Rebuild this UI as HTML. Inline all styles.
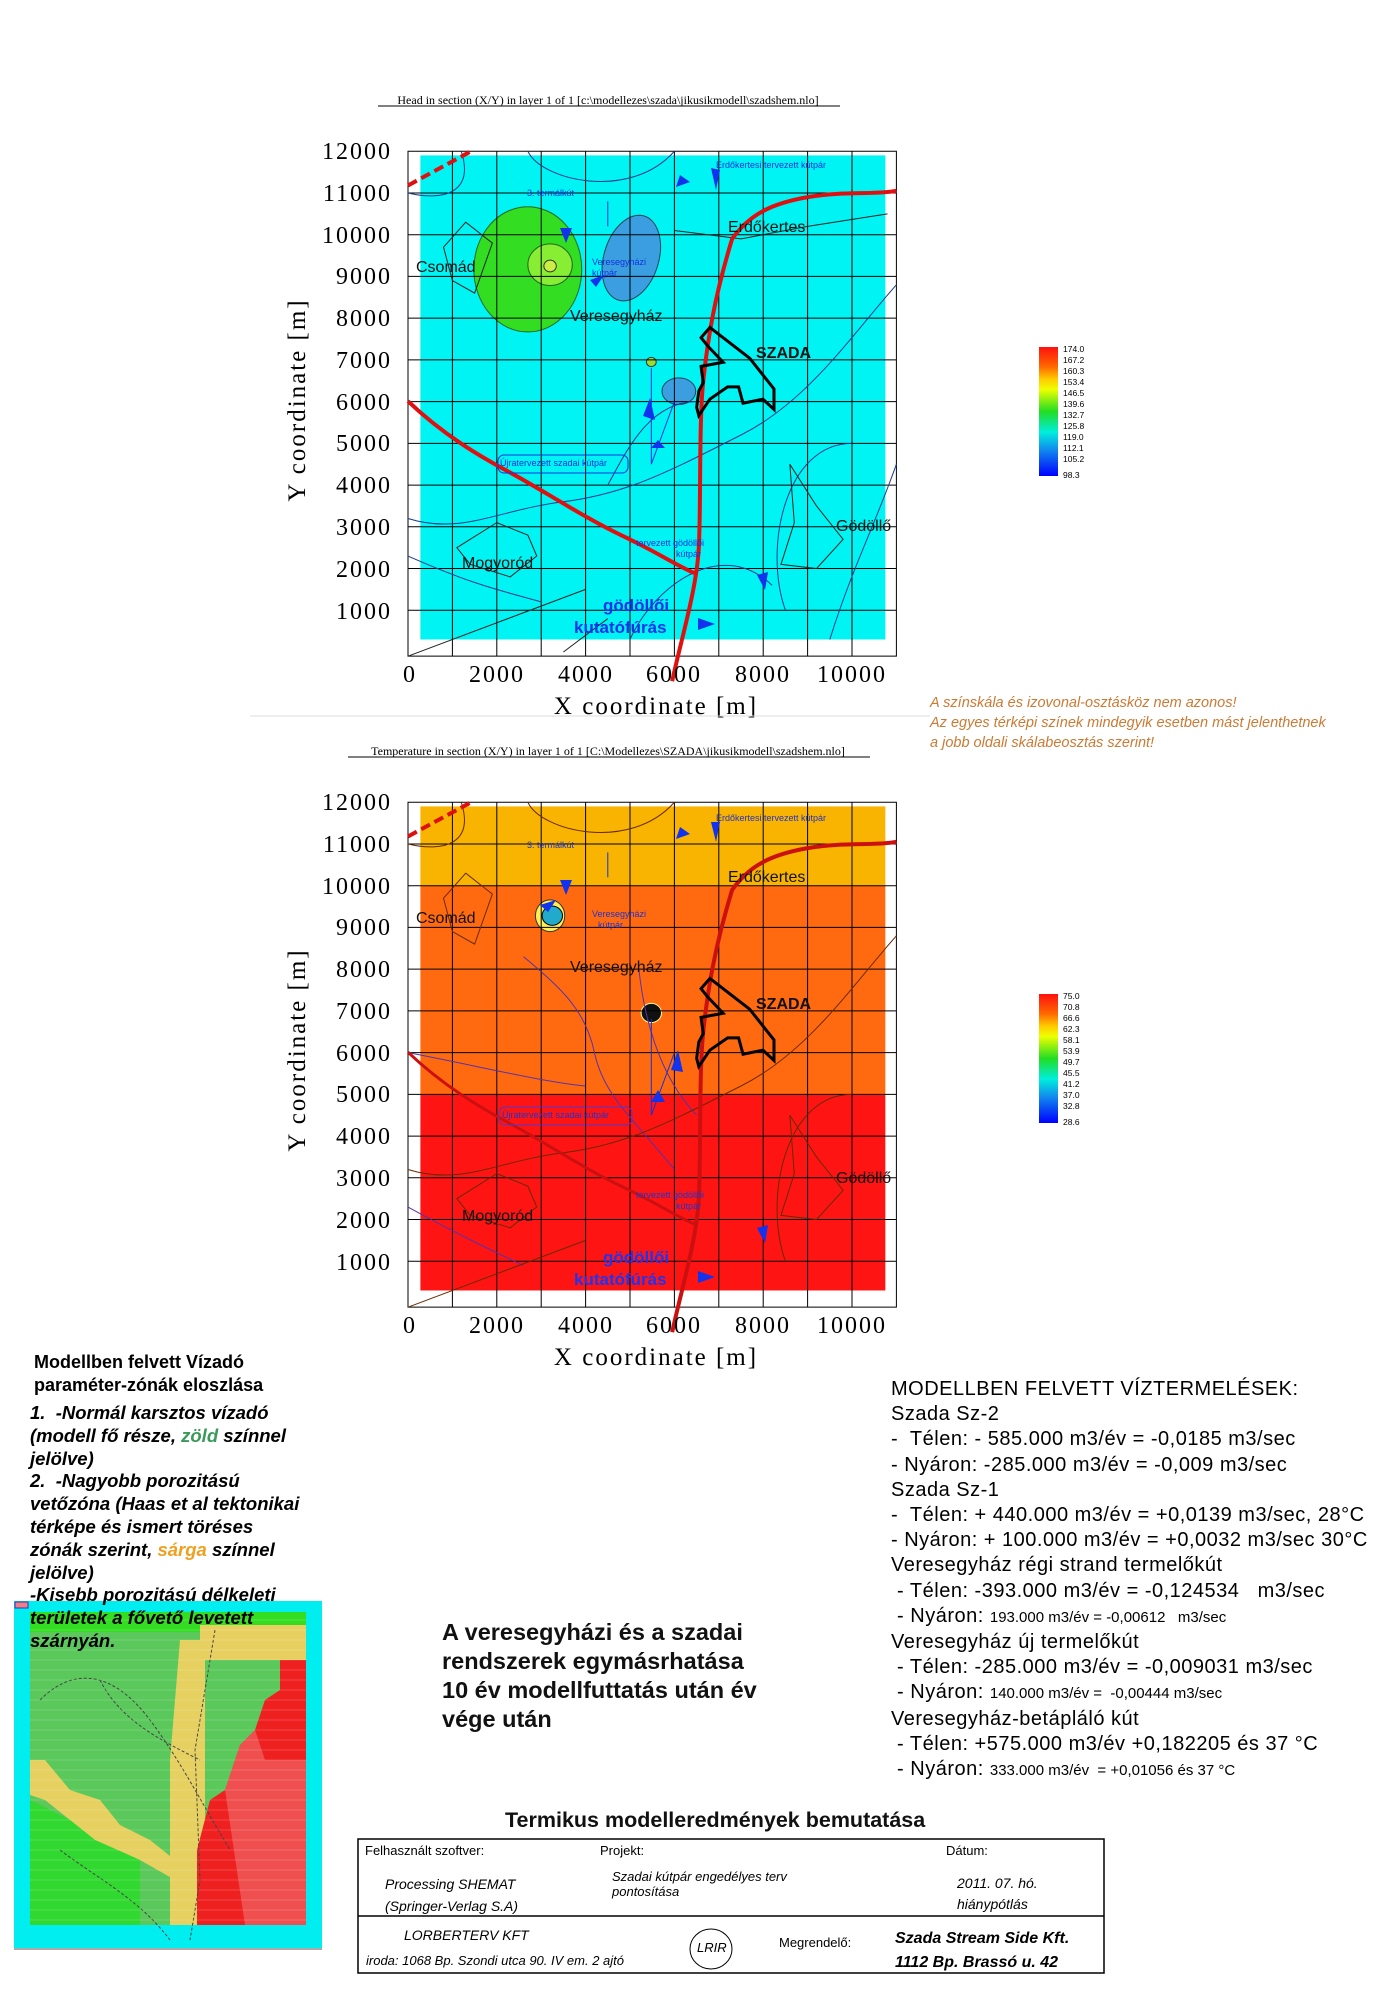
<!DOCTYPE html>
<html><head><meta charset="utf-8">
<style>
html,body{margin:0;padding:0;background:#fff;}
body{width:1388px;height:1992px;position:relative;overflow:hidden;font-family:"Liberation Sans",sans-serif;}
.t{position:absolute;white-space:nowrap;}
</style></head><body>
<svg width="1388" height="1992" style="position:absolute;left:0;top:0" xmlns="http://www.w3.org/2000/svg">
<!-- ============ PLOT 1 ============ -->
<g transform="translate(408,652) scale(0.0444,-0.04173)">
  <rect x="279" y="300" width="10472" height="11600" fill="#00f4f4"/>
  <ellipse cx="2698" cy="9170" rx="1215" ry="1500" fill="#33dd22" stroke="#226622" stroke-width="1" vector-effect="non-scaling-stroke"/>
  <circle cx="3200" cy="9280" r="500" fill="#88ee33" stroke="#226622" vector-effect="non-scaling-stroke"/>
  <circle cx="3200" cy="9250" r="140" fill="#ccee44" stroke="#333" vector-effect="non-scaling-stroke"/>
  <ellipse cx="5030" cy="9440" rx="620" ry="1050" transform="rotate(-15 5030 9440)" fill="#3a9ee0" stroke="#245" vector-effect="non-scaling-stroke"/>
  <ellipse cx="6100" cy="6250" rx="380" ry="320" fill="#3a9ee0" stroke="#245" vector-effect="non-scaling-stroke"/>
  <circle cx="5480" cy="6950" r="110" fill="#99dd33" stroke="#333" vector-effect="non-scaling-stroke"/>
  <g stroke="#000" stroke-width="1" fill="none">
    <path vector-effect="non-scaling-stroke" d="M0 1000H11000M0 2000H11000M0 3000H11000M0 4000H11000M0 5000H11000M0 6000H11000M0 7000H11000M0 8000H11000M0 9000H11000M0 10000H11000M0 11000H11000M1000 -100V12000M2000 -100V12000M3000 -100V12000M4000 -100V12000M5000 -100V12000M6000 -100V12000M7000 -100V12000M8000 -100V12000M9000 -100V12000M10000 -100V12000"/>
    <rect vector-effect="non-scaling-stroke" x="0" y="-100" width="11000" height="12100"/>
  </g>
  <g fill="none" stroke="#1a3a8a" stroke-width="1">
    <path vector-effect="non-scaling-stroke" d="M0 2300C1500 1600 2000 1500 3000 1200M0 3200C1200 2800 2000 3400 3500 3600S6000 4400 7500 5200 10000 7600 11000 8800M1200 12000C1500 11000 800 10800 0 11000M2700 12000C3000 11300 5000 10800 6000 12000M6500 6000C5500 6000 5000 5000 4500 4000M8500 1000C8000 2500 8500 5000 10000 5000M9500 300C10000 2000 10500 3000 11000 4500M5000 300C5500 1500 7000 2800 8200 1600"/>
  </g>
  <g fill="none" stroke="#222" stroke-width="1">
    <path vector-effect="non-scaling-stroke" d="M800 9700L1300 10300 1900 9800 1500 8600 1000 8900ZM2000 3100L2700 2800 2900 2300 2300 1800 1400 2100 1100 2500ZM8600 4500L9200 3500 9800 2700 9200 2000 8400 2100 8700 3100ZM6000 10100L7500 9900 9000 10200 10800 10500M0 -100L4000 1500M3500 0L4500 800"/>
  </g>
  <path vector-effect="non-scaling-stroke" d="M0 6010C800 5200 1600 4700 2300 4300S4000 3200 4800 2800 6000 2100 6450 1890" fill="none" stroke="#e01010" stroke-width="4"/>
  <path vector-effect="non-scaling-stroke" d="M5950 -700C6150 300 6500 1500 6550 2500S6550 5500 6650 6500 6900 8500 7300 9900C7700 10500 8200 10750 9000 10900S10500 10950 11000 11050" fill="none" stroke="#e01010" stroke-width="4"/>
  <path vector-effect="non-scaling-stroke" d="M0 11180L1420 12000" fill="none" stroke="#e01010" stroke-width="4" stroke-dasharray="10 5"/>
  <path vector-effect="non-scaling-stroke" d="M6799 7777L6600 7532 6749 7336 7098 6943 6600 6845 6650 6452 6550 6255 6501 5862 6550 5666 6799 6059 7198 6353 7446 6353 7546 5961 7994 6059 8243 5813 8243 6304 7695 7041Z" fill="none" stroke="#000" stroke-width="3"/>
  <path vector-effect="non-scaling-stroke" d="M5480 4500V6800M5480 4500L6000 6000M4500 10800V10200" stroke="#1133dd" fill="none"/>
</g>
<g fill="#1133ee">
  <polygon points="651,448 658,440 665,448"/><polygon points="643,416 650,398 655,420"/>
  <polygon points="596,287 590,280 604,275"/><polygon points="560,228 566,243 572,228"/>
  <polygon points="680,175 690,182 676,187"/><polygon points="698,618 715,624 698,630"/>
  <polygon points="757,575 765,590 768,572"/><polygon points="711,168 716,190 720,170"/>
</g>
<g font-family="Liberation Sans,sans-serif" fill="#1133dd" font-size="9">
  <text x="527" y="196">3. termálkút</text>
  <text x="716" y="168">Erdőkertesi tervezett kútpár</text>
  <text x="592" y="265">Veresegyházi</text><text x="592" y="276">kútpár</text>
  <text x="500" y="466">Újratervezett szadai kútpár</text>
  <text x="636" y="546">tervezett gödöllői</text><text x="676" y="557">kútpár</text>
</g>
<rect x="498" y="455" width="130" height="18" rx="6" fill="none" stroke="#1133dd"/>
<g font-family="Liberation Sans,sans-serif" font-size="16" fill="#111">
  <text x="416" y="272">Csomád</text><text x="570" y="321">Veresegyház</text>
  <text x="728" y="232">Erdőkertes</text><text x="836" y="531">Gödöllő</text>
  <text x="462" y="568">Mogyoród</text>
  <text x="756" y="358" font-weight="bold">SZADA</text>
</g>
<g font-family="Liberation Sans,sans-serif" font-size="17" fill="#1133ee" font-weight="bold">
  <text x="603" y="611">gödöllői</text><text x="574" y="633">kutatófúrás</text>
</g>
<g font-family="Liberation Serif,serif" font-size="24" fill="#000" text-anchor="end" letter-spacing="2">
  <text x="392" y="159">12000</text><text x="392" y="201">11000</text><text x="392" y="243">10000</text><text x="392" y="284">9000</text><text x="392" y="326">8000</text><text x="392" y="368">7000</text><text x="392" y="410">6000</text><text x="392" y="451">5000</text><text x="392" y="493">4000</text><text x="392" y="535">3000</text><text x="392" y="577">2000</text><text x="392" y="619">1000</text>
</g>
<g font-family="Liberation Serif,serif" font-size="24" fill="#000" text-anchor="middle" letter-spacing="2">
  <text x="410" y="682">0</text><text x="497" y="682">2000</text><text x="586" y="682">4000</text><text x="674" y="682">6000</text><text x="763" y="682">8000</text><text x="852" y="682">10000</text>
</g>
<text x="656" y="714" font-family="Liberation Serif,serif" font-size="25" text-anchor="middle" letter-spacing="2">X coordinate [m]</text>
<text transform="translate(305,400) rotate(-90)" font-family="Liberation Serif,serif" font-size="25" text-anchor="middle" letter-spacing="2">Y coordinate [m]</text>
<text x="608" y="104" font-family="Liberation Serif,serif" font-size="12" text-anchor="middle">Head in section (X/Y) in layer 1 of 1    [c:\modellezes\szada\jikusikmodell\szadshem.nlo]</text>
<line x1="378" y1="106" x2="840" y2="106" stroke="#000"/>
<line x1="250" y1="716" x2="930" y2="716" stroke="#ddd"/>

<defs>
<linearGradient id="cb" x1="0" y1="0" x2="0" y2="1">
<stop offset="0" stop-color="#ff1010"/><stop offset="0.15" stop-color="#ff6600"/><stop offset="0.25" stop-color="#ffcc00"/><stop offset="0.33" stop-color="#eeff00"/><stop offset="0.5" stop-color="#22dd22"/><stop offset="0.66" stop-color="#00eedd"/><stop offset="0.8" stop-color="#1188ee"/><stop offset="1" stop-color="#0000ff"/>
</linearGradient>
</defs>
<rect x="1039" y="347" width="19" height="129" fill="url(#cb)"/>
<g font-family="Liberation Sans,sans-serif" font-size="8.5" fill="#000">
<text x="1063" y="352">174.0</text><text x="1063" y="363">167.2</text><text x="1063" y="374">160.3</text><text x="1063" y="385">153.4</text><text x="1063" y="396">146.5</text><text x="1063" y="407">139.6</text><text x="1063" y="418">132.7</text><text x="1063" y="429">125.8</text><text x="1063" y="440">119.0</text><text x="1063" y="451">112.1</text><text x="1063" y="462">105.2</text><text x="1063" y="478">98.3</text>
</g>

<!-- ============ PLOT 2 ============ -->
<g transform="translate(408,1303) scale(0.0444,-0.04173)">
  <rect x="279" y="10000" width="10472" height="1900" fill="#f8b400"/>
  <rect x="279" y="5000" width="10472" height="5000" fill="#ff6a10"/>
  <rect x="279" y="300" width="10472" height="4700" fill="#ff1414"/>
  <ellipse cx="3200" cy="9280" rx="330" ry="380" fill="#ffee55" stroke="#333" vector-effect="non-scaling-stroke"/>
  <circle cx="3250" cy="9280" r="230" fill="#22aacc" stroke="#001" vector-effect="non-scaling-stroke"/>
  <circle cx="5480" cy="6950" r="230" fill="#111" stroke="#ff9" vector-effect="non-scaling-stroke"/>
  <g stroke="#000" fill="none">
    <path vector-effect="non-scaling-stroke" d="M0 1000H11000M0 2000H11000M0 3000H11000M0 4000H11000M0 5000H11000M0 6000H11000M0 7000H11000M0 8000H11000M0 9000H11000M0 10000H11000M0 11000H11000M1000 -100V12000M2000 -100V12000M3000 -100V12000M4000 -100V12000M5000 -100V12000M6000 -100V12000M7000 -100V12000M8000 -100V12000M9000 -100V12000M10000 -100V12000"/>
    <rect vector-effect="non-scaling-stroke" x="0" y="-100" width="11000" height="12100"/>
  </g>
  <g fill="none" stroke="#5533aa">
    <path vector-effect="non-scaling-stroke" d="M0 2300C1200 1600 2000 1200 2600 900M2600 8300C3500 7500 4000 7000 4200 6000S5000 4500 6000 3200M0 6000C1500 5700 3000 5300 4000 5200M5200 8000C5300 7000 5600 5500 6500 4500"/>
  </g>
  <g fill="none" stroke="#6a2a00">
    <path vector-effect="non-scaling-stroke" d="M800 9700L1300 10300 1900 9800 1500 8600 1000 8900ZM2000 3100L2700 2800 2900 2300 2300 1800 1400 2100 1100 2500ZM8600 4500L9200 3500 9800 2700 9200 2000 8400 2100 8700 3100ZM0 3200C1200 2800 2000 3400 3500 3600S6000 4400 7500 5200 10000 7600 11000 8800M1200 12000C1500 11000 800 10800 0 11000M2700 12000C3000 11300 5000 10800 6000 12000M8500 1000C8000 2500 8500 5000 10000 5000M0 -100L4000 1500"/>
  </g>
  <path vector-effect="non-scaling-stroke" d="M0 6010C800 5200 1600 4700 2300 4300S4000 3200 4800 2800 6000 2100 6450 1890" fill="none" stroke="#cc1010" stroke-width="3"/>
  <path vector-effect="non-scaling-stroke" d="M5950 -700C6150 300 6500 1500 6550 2500S6550 5500 6650 6500 6900 8500 7300 9900C7700 10500 8200 10750 9000 10900S10500 10950 11000 11050" fill="none" stroke="#cc1010" stroke-width="4"/>
  <path vector-effect="non-scaling-stroke" d="M0 11180L1420 12000" fill="none" stroke="#dd1010" stroke-width="4" stroke-dasharray="10 5"/>
  <path vector-effect="non-scaling-stroke" d="M6799 7777L6600 7532 6749 7336 7098 6943 6600 6845 6650 6452 6550 6255 6501 5862 6550 5666 6799 6059 7198 6353 7446 6353 7546 5961 7994 6059 8243 5813 8243 6304 7695 7041Z" fill="none" stroke="#000" stroke-width="3"/>
  <path vector-effect="non-scaling-stroke" d="M5480 4500V6800M5480 4500L6000 6000M4500 10800V10200" stroke="#1133dd" fill="none"/>
</g>
<g fill="#1133ee">
  <polygon points="651,1102 658,1090 665,1102"/><polygon points="671,1070 678,1050 683,1072"/>
  <polygon points="548,912 540,905 556,900"/><polygon points="560,880 566,895 572,880"/>
  <polygon points="680,827 690,834 676,839"/><polygon points="698,1271 715,1277 698,1283"/>
  <polygon points="757,1228 765,1243 768,1225"/><polygon points="711,822 716,842 720,822"/>
</g>
<g font-family="Liberation Sans,sans-serif" fill="#2233cc" font-size="9">
  <text x="527" y="848">3. termálkút</text>
  <text x="716" y="821">Erdőkertesi tervezett kútpár</text>
  <text x="592" y="917">Veresegyházi</text><text x="598" y="928">kútpár</text>
  <text x="502" y="1118">Újratervezett szadai kútpár</text>
  <text x="636" y="1198">tervezett gödöllői</text><text x="676" y="1209">kútpár</text>
</g>
<rect x="499" y="1107" width="133" height="18" rx="6" fill="none" stroke="#5533cc"/>
<g font-family="Liberation Sans,sans-serif" font-size="16" fill="#111">
  <text x="416" y="923">Csomád</text><text x="570" y="972">Veresegyház</text>
  <text x="728" y="882">Erdőkertes</text><text x="836" y="1183">Gödöllő</text>
  <text x="462" y="1221">Mogyoród</text>
  <text x="756" y="1009" font-weight="bold">SZADA</text>
</g>
<g font-family="Liberation Sans,sans-serif" font-size="17" fill="#2233ee" font-weight="bold">
  <text x="603" y="1263">gödöllői</text><text x="574" y="1285">kutatófúrás</text>
</g>
<g font-family="Liberation Serif,serif" font-size="24" fill="#000" text-anchor="end" letter-spacing="2">
  <text x="392" y="810">12000</text><text x="392" y="852">11000</text><text x="392" y="894">10000</text><text x="392" y="935">9000</text><text x="392" y="977">8000</text><text x="392" y="1019">7000</text><text x="392" y="1061">6000</text><text x="392" y="1102">5000</text><text x="392" y="1144">4000</text><text x="392" y="1186">3000</text><text x="392" y="1228">2000</text><text x="392" y="1270">1000</text>
</g>
<g font-family="Liberation Serif,serif" font-size="24" fill="#000" text-anchor="middle" letter-spacing="2">
  <text x="410" y="1333">0</text><text x="497" y="1333">2000</text><text x="586" y="1333">4000</text><text x="674" y="1333">6000</text><text x="763" y="1333">8000</text><text x="852" y="1333">10000</text>
</g>
<text x="656" y="1365" font-family="Liberation Serif,serif" font-size="25" text-anchor="middle" letter-spacing="2">X coordinate [m]</text>
<text transform="translate(305,1050) rotate(-90)" font-family="Liberation Serif,serif" font-size="25" text-anchor="middle" letter-spacing="2">Y coordinate [m]</text>
<text x="608" y="755" font-family="Liberation Serif,serif" font-size="12" text-anchor="middle">Temperature in section (X/Y) in layer 1 of 1    [C:\Modellezes\SZADA\jikusikmodell\szadshem.nlo]</text>
<line x1="348" y1="757" x2="870" y2="757" stroke="#000"/>
<rect x="1039" y="994" width="19" height="129" fill="url(#cb)"/>
<g font-family="Liberation Sans,sans-serif" font-size="8.5" fill="#000">
<text x="1063" y="999">75.0</text><text x="1063" y="1010">70.8</text><text x="1063" y="1021">66.6</text><text x="1063" y="1032">62.3</text><text x="1063" y="1043">58.1</text><text x="1063" y="1054">53.9</text><text x="1063" y="1065">49.7</text><text x="1063" y="1076">45.5</text><text x="1063" y="1087">41.2</text><text x="1063" y="1098">37.0</text><text x="1063" y="1109">32.8</text><text x="1063" y="1125">28.6</text>
</g>

<!-- small zone map -->
<rect x="14" y="1601" width="308" height="347" fill="#00eef0"/>
<rect x="30" y="1612" width="276" height="313" fill="#5ac85a"/>
<rect x="30" y="1612" width="276" height="20" fill="#33dd22"/>
<polygon points="200,1625 306,1625 306,1660 200,1660" fill="#e8d060"/>
<polygon points="180,1640 205,1640 205,1925 170,1925 170,1760" fill="#e6d060"/>
<polygon points="30,1760 45,1760 70,1790 100,1800 120,1825 150,1840 175,1860 175,1880 140,1860 95,1840 70,1820 45,1800 30,1795" fill="#e6d060"/>
<polygon points="30,1800 70,1820 95,1840 140,1860 140,1925 30,1925" fill="#30d830"/>
<polygon points="280,1660 306,1660 306,1925 197,1925 197,1850 210,1800 225,1790 240,1745 255,1730 265,1700 280,1690" fill="#ee2020"/>
<polygon points="225,1790 240,1745 255,1730 265,1760 306,1760 306,1925 245,1925" fill="#f07070" opacity="0.6"/>
<g stroke="#444" fill="none" stroke-width="1" stroke-dasharray="3 2">
<path d="M40 1700C80 1660 120 1680 150 1720S200 1800 230 1850M215 1630L195 1750 200 1880 190 1940M60 1850C100 1880 140 1900 170 1940M100 1680C120 1720 160 1740 200 1760"/>
</g>
<g stroke="#fff" stroke-width="0.5" opacity="0.35">
<path d="M30 1620H306M30 1630H306M30 1640H306M30 1650H306M30 1660H306M30 1670H306M30 1680H306M30 1690H306M30 1700H306M30 1710H306M30 1720H306M30 1730H306M30 1740H306M30 1750H306M30 1760H306M30 1770H306M30 1780H306M30 1790H306M30 1800H306M30 1810H306M30 1820H306M30 1830H306M30 1840H306M30 1850H306M30 1860H306M30 1870H306M30 1880H306M30 1890H306M30 1900H306M30 1910H306M30 1920H306"/>
</g>
<line x1="14" y1="1949" x2="322" y2="1949" stroke="#aaa" stroke-width="2"/>
<rect x="15" y="1602" width="13" height="6" fill="#f08080" stroke="#33c"/>

<!-- table -->
<rect x="358" y="1839" width="746" height="134" fill="none" stroke="#000" stroke-width="1.5"/>
<line x1="358" y1="1916" x2="1104" y2="1916" stroke="#000" stroke-width="1.5"/>
<ellipse cx="711" cy="1949" rx="21" ry="20" fill="none" stroke="#000"/>
</svg>

<div class="t" style="left:930px;top:693px;font-size:14.5px;font-style:italic;color:#cc7a33;line-height:20px;">A színskála és izovonal-osztásköz nem azonos!<br>Az egyes térképi színek mindegyik esetben mást jelenthetnek<br>a jobb oldali skálabeosztás szerint!</div>

<div class="t" style="left:34px;top:1351px;font-size:18px;font-weight:bold;line-height:22.7px;color:#000;">Modellben felvett Vízadó<br>paraméter-zónák eloszlása</div>
<div class="t" style="left:30px;top:1402px;font-size:18.5px;font-weight:bold;font-style:italic;line-height:22.8px;color:#000;">1.&nbsp; -Normál karsztos vízadó<br>(modell fő része, <span style="color:#3a9a5a">zöld</span> színnel<br>jelölve)<br>2.&nbsp; -Nagyobb porozitású<br>vetőzóna (Haas et al tektonikai<br>térképe és ismert töréses<br>zónák szerint, <span style="color:#f0a020">sárga</span> színnel<br>jelölve)<br>-Kisebb porozitású délkeleti<br>területek a fővető levetett<br>szárnyán.</div>

<div class="t" style="left:442px;top:1618px;font-size:23.5px;font-weight:bold;line-height:29px;color:#111;">A veresegyházi és a szadai<br>rendszerek egymásrhatása<br>10 év modellfuttatás után év<br>vége után</div>

<div class="t" style="left:891px;top:1377px;font-size:20px;letter-spacing:0.5px;line-height:25.2px;color:#000;">MODELLBEN FELVETT VÍZTERMELÉSEK:<br>Szada Sz-2<br>-&nbsp; Télen: - 585.000 m3/év = -0,0185 m3/sec<br>- Nyáron: -285.000 m3/év = -0,009 m3/sec<br>Szada Sz-1<br>-&nbsp; Télen: + 440.000 m3/év = +0,0139 m3/sec, 28°C<br>- Nyáron: + 100.000 m3/év = +0,0032 m3/sec 30°C<br>Veresegyház régi strand termelőkút<br>&nbsp;- Télen: -393.000 m3/év = -0,124534 &nbsp;&nbsp;m3/sec<br>&nbsp;- Nyáron: <span style="font-size:15px;letter-spacing:0">193.000 m3/év = -0,00612 &nbsp;&nbsp;m3/sec</span><br>Veresegyház új termelőkút<br>&nbsp;- Télen: -285.000 m3/év = -0,009031 m3/sec<br>&nbsp;- Nyáron: <span style="font-size:15px;letter-spacing:0">140.000 m3/év = &nbsp;-0,00444 m3/sec</span><br>Veresegyház-betápláló kút<br>&nbsp;- Télen: +575.000 m3/év +0,182205 és 37 °C<br>&nbsp;- Nyáron: <span style="font-size:15px;letter-spacing:0">333.000 m3/év &nbsp;= +0,01056 és 37 °C</span></div>

<div class="t" style="left:505px;top:1808px;font-size:21.5px;font-weight:bold;color:#111;">Termikus modelleredmények bemutatása</div>

<div class="t" style="left:365px;top:1843px;font-size:13px;">Felhasznált szoftver:</div>
<div class="t" style="left:600px;top:1843px;font-size:13px;">Projekt:</div>
<div class="t" style="left:946px;top:1843px;font-size:13px;">Dátum:</div>
<div class="t" style="left:385px;top:1873px;font-size:14px;font-style:italic;line-height:22px;">Processing SHEMAT<br>(Springer-Verlag S.A)</div>
<div class="t" style="left:612px;top:1869px;font-size:13px;font-style:italic;line-height:15px;">Szadai kútpár engedélyes terv<br>pontosítása</div>
<div class="t" style="left:957px;top:1873px;font-size:14px;font-style:italic;line-height:21px;">2011. 07. hó.<br>hiánypótlás</div>
<div class="t" style="left:404px;top:1927px;font-size:14px;font-style:italic;">LORBERTERV KFT</div>
<div class="t" style="left:366px;top:1953px;font-size:13px;font-style:italic;">iroda: 1068 Bp. Szondi utca 90. IV em. 2 ajtó</div>
<div class="t" style="left:697px;top:1940px;font-size:13px;font-style:italic;">LRIR</div>
<div class="t" style="left:779px;top:1935px;font-size:13px;">Megrendelő:</div>
<div class="t" style="left:895px;top:1927px;font-size:16px;font-style:italic;font-weight:bold;line-height:24px;">Szada Stream Side Kft.<br>1112 Bp. Brassó u. 42</div>
</body></html>
